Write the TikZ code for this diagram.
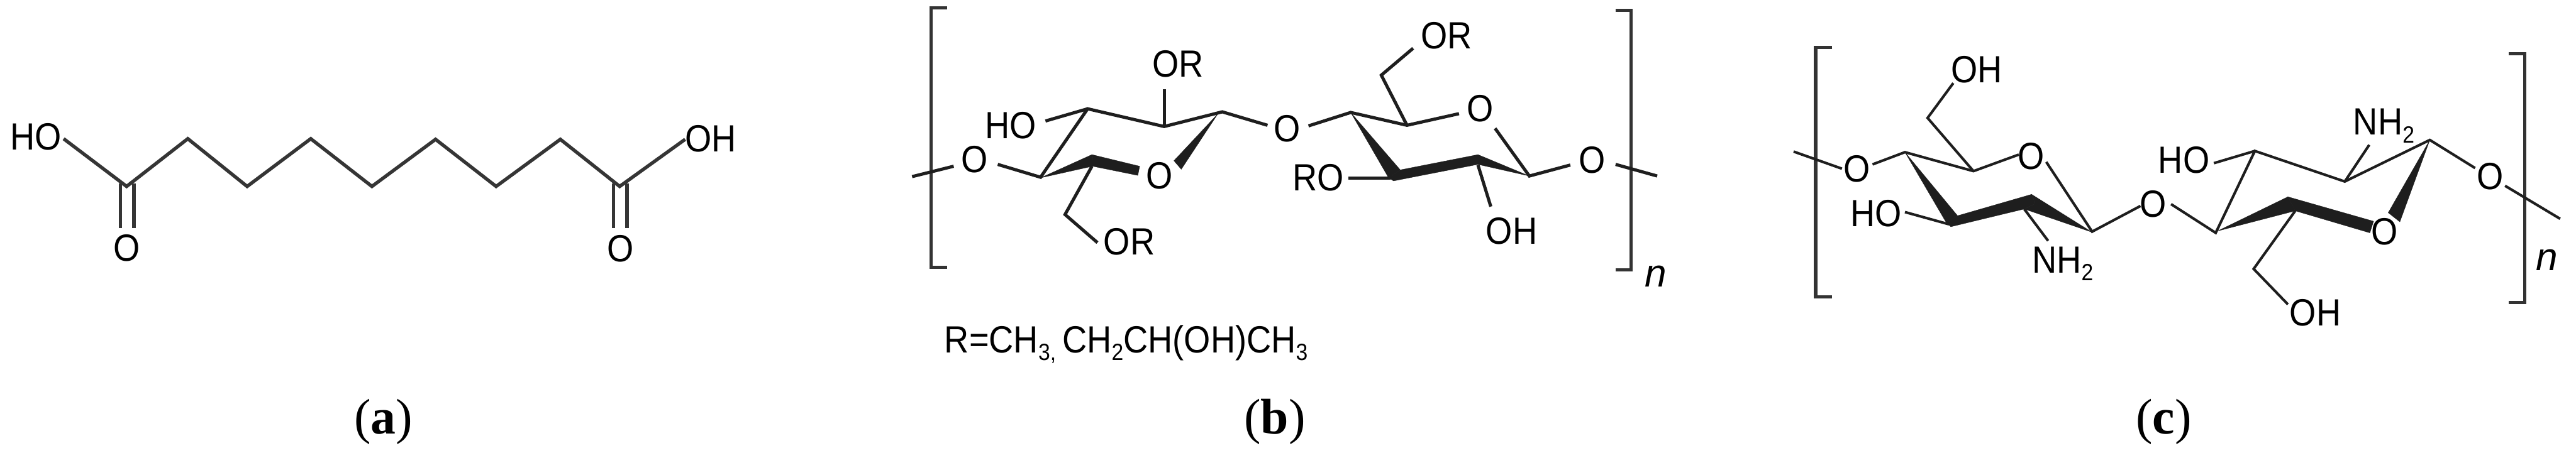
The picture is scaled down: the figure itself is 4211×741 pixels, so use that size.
\documentclass[tikz,border=0pt]{standalone}
\usepackage{fontspec}
\setmainfont{Liberation Sans}
\newfontfamily\chemfont[FakeStretch=0.9]{Liberation Sans}
\newfontfamily\capfont{Liberation Serif}
\newcommand\sbt[1]{\raisebox{-.2em}{\scalebox{.62}{#1}}}
\definecolor{ink}{HTML}{1E1E1E}
\definecolor{bracketink}{HTML}{333333}
\tikzset{
  bond/.style={draw=ink,line width=2.6pt,line cap=butt,line join=miter},
  bondA/.style={draw=ink!90,line width=2.8pt,line join=miter},
  bondC/.style={draw=ink,line width=2.1pt,line join=miter},
  bracketline/.style={draw=bracketink,line width=2.6pt,line join=miter},
  dark/.style={fill=ink,draw=ink,line width=.2pt},
  atom/.style={inner sep=0pt,outer sep=0pt,anchor=base,text=black,font=\chemfont\fontsize{31}{37}\selectfont},
  atomW/.style={atom,anchor=base west},
  caplabel/.style={inner sep=0pt,anchor=base,text=black,font=\capfont\fontsize{41}{48}\selectfont},
}
\begin{document}
\begin{tikzpicture}[x=.5pt,y=-.5pt]
\useasboundingbox (0,0) rectangle (4211,741);
\fill[white] (0,0) rectangle (4211,741);

% ---------- panel a
\foreach \n/\p in {a0/{104,227},a1/{207,305},a2/{307,227},a3/{404,305},a4/{508,227},a5/{608,305},a6/{712,228},a7/{811,305},a8/{916,228},a9/{1013,305},a10/{1120,228},
  d1/{197,300},d2/{197,373},d3/{219,300},d4/{219,373},d5/{1003,300},d6/{1003,373},d7/{1025,300},d8/{1025,373}}
  {\coordinate (\n) at (\p);}
\draw[bondA] (a0)--(a1)--(a2)--(a3)--(a4)--(a5)--(a6)--(a7)--(a8)--(a9)--(a10);
\draw[bondA] (d1)--(d2) (d3)--(d4) (d5)--(d6) (d7)--(d8);
\node[atom] (aHO) at (59,245) {HO};
\node[atom] (aOH) at (1162,248) {OH};
\node[atom] (aO1) at (207,427) {O};
\node[atom] (aO2) at (1014,428) {O};

% ---------- panel b, brackets
\foreach \n/\p in {bb1/{1548,13},bb2/{1522,13},bb3/{1522,437},bb4/{1548,437},
  bb5/{2641,17},bb6/{2666,17},bb7/{2666,442},bb8/{2641,442}}
  {\coordinate (\n) at (\p);}
\draw[bracketline] (bb1)--(bb2)--(bb3)--(bb4);
\draw[bracketline] (bb5)--(bb6)--(bb7)--(bb8);

% ---------- panel b, left ring
\foreach \n/\p in {b1/{1491,289},b2/{1559,272},b3/{1631,269},b4/{1701,290},b5/{1778,178},b6/{1709,198},
  b7/{1903,207},b8/{1903,146},b9/{1998,183},b10/{2072,205},b11/{1785,272},b12/{1741,351},b13/{1794,397},
  w1/{1991,186},w2/{1919,263},w3/{1931,277},
  w4/{1701,291},w5/{1785,253},w6/{1786,272},w7/{1863,272},w8/{1860,287}}
  {\coordinate (\n) at (\p);}
\draw[bond] (b1)--(b2);
\draw[bond] (b3)--(b4)--(b5)--(b7)--(b9)--(b10);
\draw[bond] (b6)--(b5);
\draw[bond] (b7)--(b8);
\draw[bond] (b11)--(b12)--(b13);
\fill[dark] (w1)--(w2)--(w3)--cycle;
\fill[dark] (w4)--(w5)--(w6)--cycle;
\fill[dark] (w5)--(w7)--(w8)--(w6)--cycle;

% ---------- panel b, right ring
\foreach \n/\p in {e1/{2139,206},e2/{2208,184},e3/{2300,205},e4/{2258,123},e5/{2310,79},e6/{2385,186},
  e7/{2444,210},e8/{2500,288},e9/{2567,270},e10/{2641,269},e11/{2709,288},
  e12/{2416,270},e13/{2437,338},e14/{2204,291},e15/{2273,291},
  x1/{2208,184},x2/{2289,278},x3/{2270,291},x4/{2278,296},x5/{2416,253},x6/{2416,269},x7/{2500,288}}
  {\coordinate (\n) at (\p);}
\draw[bond] (e1)--(e2)--(e3)--(e6);
\draw[bond] (e3)--(e4)--(e5);
\draw[bond] (e7)--(e8)--(e9);
\draw[bond] (e10)--(e11);
\draw[bond] (e12)--(e13);
\draw[bond] (e14)--(e15);
\fill[dark] (x1)--(x2)--(x3)--cycle;
\fill[dark] (x3)--(x2)--(x5)--(x6)--(x4)--cycle;
\fill[dark] (x5)--(x7)--(x6)--cycle;

\node[atom] (bHO) at (1652,227) {HO};
\node[atom] (bO1) at (1593,282) {O};
\node[atom] (bOR1) at (1926,126) {OR};
\node[atom] (bO2) at (2104,232) {O};
\node[atom] (bO3) at (1895,309) {O};
\node[atom] (bOR2) at (1846,417) {OR};
\node[atom] (bRO) at (2155,312) {RO};
\node[atom] (bOR3) at (2365,80) {OR};
\node[atom] (bO4) at (2420,199) {O};
\node[atom] (bO5) at (2603,283) {O};
\node[atom] (bOH) at (2471,399) {OH};
\node[atom,font=\fontsize{32}{38}\selectfont\itshape] (bn) at (2707,469) {n};
\node[atomW] (bR) at (1544,577) {R=CH\sbt{3,}\,CH\sbt{2}CH(OH)CH\sbt{3}};

% ---------- panel c, brackets
\foreach \n/\p in {cb1/{2995,78},cb2/{2968,78},cb3/{2968,486},cb4/{2995,486},
  cb5/{4101,88},cb6/{4127,88},cb7/{4127,495},cb8/{4101,495}}
  {\coordinate (\n) at (\p);}
\draw[bracketline] (cb1)--(cb2)--(cb3)--(cb4);
\draw[bracketline] (cb5)--(cb6)--(cb7)--(cb8);

% ---------- panel c, left ring
\foreach \n/\p in {c1/{2932,248},c2/{3011,276},c3/{3061,269},c4/{3114,249},c5/{3226,280},c6/{3151,193},c7/{3193,136},
  c8/{3300,253},c9/{3345,265},c10/{3420,379},c11/{3499,337},c12/{3309,342},c13/{3348,394},c14/{3114,347},c15/{3186,367},
  y1/{3114,249},y2/{3200,353},y3/{3182,365},y4/{3189,371},y5/{3321,318},y6/{3309,342},y7/{3420,380},y8/{3327,333}}
  {\coordinate (\n) at (\p);}
\draw[bondC] (c1)--(c2);
\draw[bondC] (c3)--(c4)--(c5)--(c8);
\draw[bondC] (c5)--(c6)--(c7);
\draw[bondC] (c9)--(c10)--(c11);
\draw[bondC] (c12)--(c13);
\draw[bondC] (c14)--(c15);
\fill[dark] (y1)--(y2)--(y3)--cycle;
\fill[dark] (y3)--(y2)--(y5)--(y8)--(y6)--(y4)--cycle;
\fill[dark] (y5)--(y7)--(y6)--(y8)--cycle;

% ---------- panel c, right ring
\foreach \n/\p in {f1/{3549,334},f2/{3622,381},f3/{3686,247},f4/{3619,267},f5/{3833,297},f6/{3873,237},f7/{3972,229},
  f8/{4046,275},f9/{4095,304},f10/{4185,358},f11/{3752,345},f12/{3684,440},f13/{3740,498},
  z1/{3972,229},z2/{3904,348},z3/{3923,363},
  z4/{3625,378},z5/{3740,322},z6/{3752,345},z7/{3880,362},z8/{3874,381}}
  {\coordinate (\n) at (\p);}
\draw[bondC] (f1)--(f2)--(f3)--(f5)--(f7)--(f8);
\draw[bondC] (f4)--(f3);
\draw[bondC] (f5)--(f6);
\draw[bondC] (f9)--(f10);
\draw[bondC] (f11)--(f12)--(f13);
\fill[dark] (z1)--(z2)--(z3)--cycle;
\fill[dark] (z4)--(z5)--(z6)--cycle;
\fill[dark] (z5)--(z7)--(z8)--(z6)--cycle;

\node[atom] (cOH1) at (3231,135) {OH};
\node[atom] (cO1) at (3035,298) {O};
\node[atom] (cO2) at (3320,277) {O};
\node[atom] (cHO1) at (3067,371) {HO};
\node[atomW] (cNH1) at (3322,447) {NH\sbt{2}};
\node[atom] (cO3) at (3520,355) {O};
\node[atom] (cHO2) at (3570,283) {HO};
\node[atomW] (cNH2) at (3847,221) {NH\sbt{2}};
\node[atom] (cO4) at (4071,310) {O};
\node[atom] (cO5) at (3898,400) {O};
\node[atom] (cOH2) at (3785,533) {OH};
\node[atom,font=\fontsize{32}{38}\selectfont\itshape] (cn) at (4163,443) {n};

% ---------- captions
\node[caplabel] (capa) at (627,710) {(\textbf{a})};
\node[caplabel] (capb) at (2084,710) {(\textbf{b})};
\node[caplabel] (capc) at (3537,710) {(\textbf{c})};
\end{tikzpicture}
\end{document}
